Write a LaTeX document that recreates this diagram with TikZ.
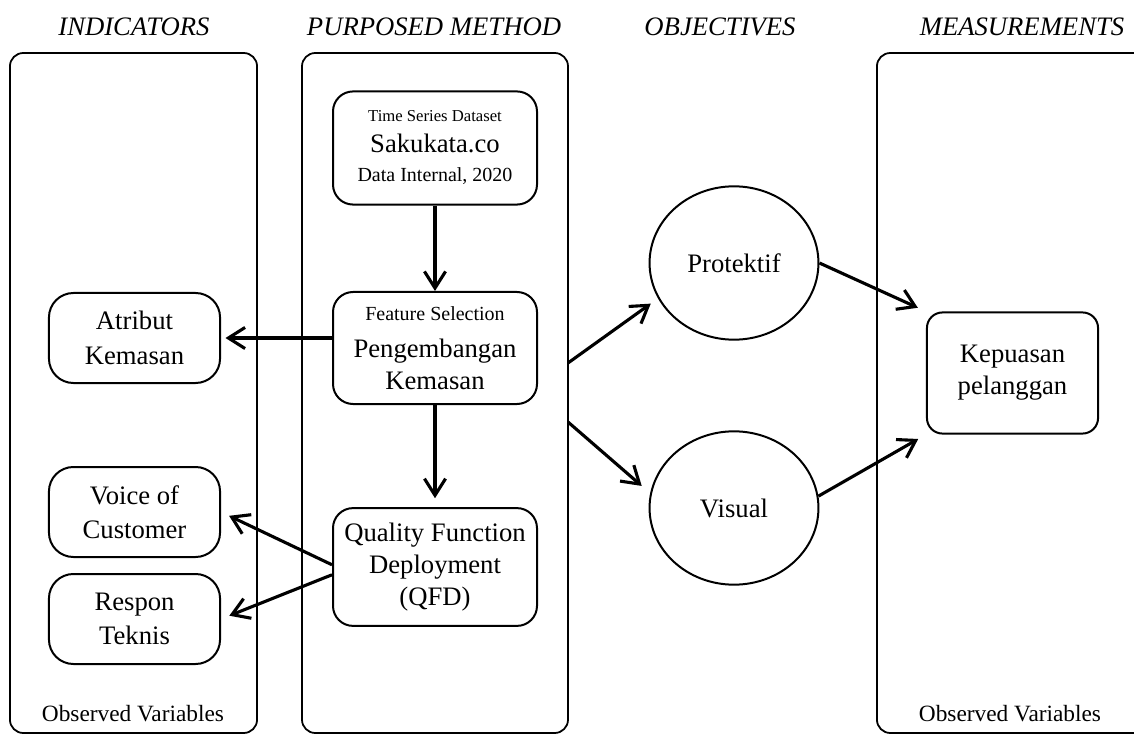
\documentclass[tikz,border=0pt]{standalone}
\usepackage{fontspec}
\setmainfont{Liberation Serif}
\usetikzlibrary{arrows.meta,calc,positioning,shapes.geometric}

\tikzset{
  panel/.style={draw,line width=0.8pt,rounded corners=6pt,inner sep=0pt},
  box/.style={draw,line width=0.9pt,rounded corners=9pt,align=center,inner sep=2pt,
    minimum width=91.8pt,font=\fontsize{12}{14.5}\selectfont},
  sbox/.style={box,rounded corners=11pt,minimum width=77pt,minimum height=40.5pt,
    font=\fontsize{12}{15.5}\selectfont},
  oval/.style={draw,ellipse,line width=0.9pt,minimum width=76pt,minimum height=69pt,
    font=\fontsize{12}{14.5}\selectfont},
  head/.style={font=\fontsize{12}{14}\selectfont\itshape},
  obs/.style={font=\fontsize{10.5}{12}\selectfont},
  link/.style={line width=1.4pt,-{Straight Barb[length=7.5pt,width=9.5pt]}}
}

\begin{document}
\begin{tikzpicture}[x=0.45pt,y=-0.45pt]
\useasboundingbox (0,0) rectangle (1134,735);
\node[head] (hind) at (134,27) {INDICATORS};
\node[head] (hmet) at (434,27) {PURPOSED METHOD};
\node[head] (hobj) at (720,27) {OBJECTIVES};
\node[head] (hmea) at (1022,27) {MEASUREMENTS};
\node[panel,minimum width=111.2pt,minimum height=306pt] (pind) at (133.5,393) {};
\node[panel,minimum width=119.7pt,minimum height=306pt] (pmet) at (435,393) {};
\node[panel,minimum width=122.9pt,minimum height=306pt] (pmea) at (1013.5,393) {};
\node[obs] (oind) at (133,714) {Observed Variables};
\node[obs] (omea) at (1010,714) {Observed Variables};
\node[box,minimum height=50.9pt] (data) at (435,148)
  {{\fontsize{7.5}{9}\selectfont Time Series Dataset}\\[-0.7pt]
   {\fontsize{12}{14}\selectfont Sakukata.co}\\[-1.3pt]
   {\fontsize{9}{11}\selectfont Data Internal, 2020}};
\node[box,minimum height=50.4pt] (feat) at (435,348)
  {{\fontsize{9}{11}\selectfont Feature Selection}\\[2pt]Pengembangan\\Kemasan};
\node[box,minimum height=53pt] (qfd) at (435,567) {Quality Function\\Deployment\\(QFD)};
\node[sbox] (atr) at (134.5,338) {Atribut\\Kemasan};
\node[sbox] (voc) at (134.5,512) {Voice of\\Customer};
\node[sbox] (resp) at (134.5,619) {Respon\\Teknis};
\node[oval] (prot) at (734,263) {Protektif};
\node[oval] (vis) at (734,508) {Visual};
\node[box,rounded corners=7pt,minimum width=77pt,minimum height=54.5pt] (kep) at (1012.5,373)
  {Kepuasan\\pelanggan};
\coordinate (m1) at (568,363);
\coordinate (m2) at (568,422);
\draw[link] (data) -- (feat);
\draw[link,shorten >=4pt] (feat) -- (qfd);
\draw[link,shorten >=2pt] (feat.west |- atr.east) -- (atr.east);
\draw[link,shorten >=4pt] ([yshift=1pt]qfd.west) -- (voc.east);
\draw[link,shorten >=4pt] ([yshift=-3.5pt]qfd.west) -- (resp.east);
\draw[link,shorten >=4pt] (m1) -- (prot.205);
\draw[link,shorten >=5pt] (m2) -- (vis.170);
\draw[link,shorten >=4pt] (prot.east) -- (kep.north west);
\draw[link,shorten >=4pt] (vis.8) -- (kep.south west);
\end{tikzpicture}
\end{document}
